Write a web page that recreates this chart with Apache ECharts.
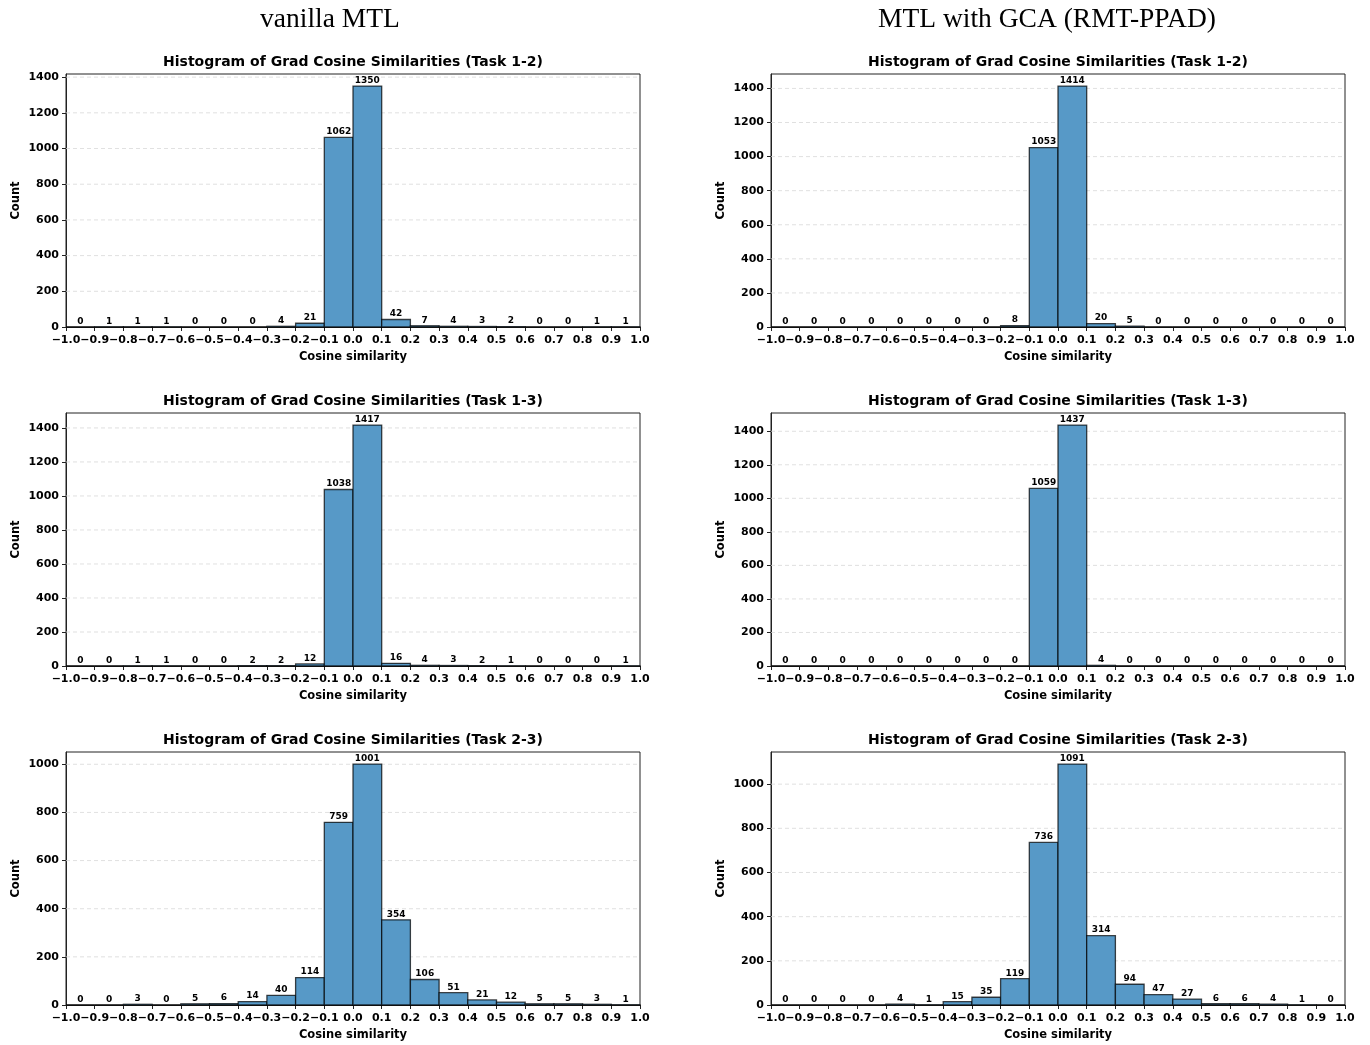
<!DOCTYPE html>
<html>
<head>
<meta charset="utf-8">
<script src="https://cdn.jsdelivr.net/npm/echarts@6/dist/echarts.min.js"></script>
<style>
html,body{margin:0;padding:0;background:#fff;}
#main{width:1370px;height:1045px;}
</style>
</head>
<body>
<div id="main"></div>
<script>
// ---------- DATA ----------
const binEdges = [-1.0,-0.9,-0.8,-0.7,-0.6,-0.5,-0.4,-0.3,-0.2,-0.1,0.0,0.1,0.2,0.3,0.4,0.5,0.6,0.7,0.8,0.9,1.0];
const columnTitles = ['vanilla MTL', 'MTL with GCA (RMT-PPAD)'];
const rowTitles = [
  'Histogram of Grad Cosine Similarities (Task 1-2)',
  'Histogram of Grad Cosine Similarities (Task 1-3)',
  'Histogram of Grad Cosine Similarities (Task 2-3)'
];
const vanilla12 = [0,1,1,1,0,0,0,4,21,1062,1350,42,7,4,3,2,0,0,1,1];
const gca12     = [0,0,0,0,0,0,0,0,8,1053,1414,20,5,0,0,0,0,0,0,0];
const vanilla13 = [0,0,1,1,0,0,2,2,12,1038,1417,16,4,3,2,1,0,0,0,1];
const gca13     = [0,0,0,0,0,0,0,0,0,1059,1437,4,0,0,0,0,0,0,0,0];
const vanilla23 = [0,0,3,0,5,6,14,40,114,759,1001,354,106,51,21,12,5,5,3,1];
const gca23     = [0,0,0,0,4,1,15,35,119,736,1091,314,94,47,27,6,6,4,1,0];
const yTicks = [0,200,400,600,800,1000,1200,1400];

// ---------- LAYOUT ----------
const panels = [
  {data: vanilla12, col:0, row:0},
  {data: gca12,     col:1, row:0},
  {data: vanilla13, col:0, row:1},
  {data: gca13,     col:1, row:1},
  {data: vanilla23, col:0, row:2},
  {data: gca23,     col:1, row:2}
];
const colLeft = [66, 771];
const colTitleX = [330, 1047];
const plotW = 574;
const rowTop = [74, 413, 752];
const plotH = 253;
const FONT = '"DejaVu Sans", sans-serif';

function fmtX(v){
  const s = Math.abs(v).toFixed(1);
  return v < -1e-9 ? '\u2212' + s : s;
}

const grids = [], xAxes = [], yAxes = [], series = [], graphics = [];

columnTitles.forEach((t, i) => {
  graphics.push({type:'text', x: colTitleX[i], y: 20,
    style:{text:t, font:'27.5px "Liberation Serif", "DejaVu Serif", serif', fill:'#000',
      textAlign:'center', textVerticalAlign:'middle'}});
});

panels.forEach((p, i) => {
  const maxV = Math.max(...p.data);
  const yMax = maxV * 1.05;
  const ticks = yTicks.filter(v => v <= yMax);
  grids.push({left: colLeft[p.col], top: rowTop[p.row], width: plotW, height: plotH,
    show: true, borderColor: '#222', borderWidth: 1, backgroundColor:'transparent'});
  graphics.push({type:'text', x: colLeft[p.col] + plotW/2, y: rowTop[p.row] - 12,
    style:{text: rowTitles[p.row], font:'bold 14px ' + FONT, fill:'#000',
      textAlign:'center', textVerticalAlign:'middle'}});
  xAxes.push({
    type:'value', gridIndex:i, min:-1, max:1, interval:0.1,
    name:'Cosine similarity', nameLocation:'middle', nameGap:24,
    nameTextStyle:{fontFamily:FONT, fontWeight:'bold', fontSize:11.5, color:'#000'},
    axisLine:{show:true, onZero:false, lineStyle:{color:'#222', width:1}},
    axisTick:{show:true, inside:false, length:4, lineStyle:{color:'#222'}},
    axisLabel:{show:true, formatter: fmtX, margin:8, fontFamily:FONT, fontWeight:'bold',
      fontSize:11, color:'#000', hideOverlap:false, showMinLabel:true, showMaxLabel:true},
    splitLine:{show:false}
  });
  yAxes.push({
    type:'value', gridIndex:i, min:0, max:yMax,
    name:'Count', nameLocation:'middle', nameGap:44, nameRotate:90,
    nameTextStyle:{fontFamily:FONT, fontWeight:'bold', fontSize:11.5, color:'#000'},
    axisLine:{show:true, onZero:false, lineStyle:{color:'#222', width:1}},
    axisTick:{show:true, inside:false, length:4, customValues: ticks, lineStyle:{color:'#222'}},
    axisLabel:{show:true, customValues: ticks, formatter: v => String(Math.round(v)), margin:7,
      fontFamily:FONT, fontWeight:'bold', fontSize:11, color:'#000'},
    splitLine:{show:false}
  });
  series.push({
    type:'custom', xAxisIndex:i, yAxisIndex:i, silent:true, z:1,
    data: ticks.filter(v => v > 0).map(v => [v]),
    renderItem(params, api){
      const v = api.value(0);
      const a = api.coord([-1, v]), b = api.coord([1, v]);
      return {type:'line', shape:{x1:a[0], y1:a[1], x2:b[0], y2:b[1]},
        style:{stroke:'#d8d8d8', lineWidth:0.8, lineDash:[4,3]}};
    }
  });
  series.push({
    type:'custom', xAxisIndex:i, yAxisIndex:i, z:2,
    data: p.data.map((c, k) => [binEdges[k], binEdges[k+1], c]),
    renderItem(params, api){
      const x0 = api.value(0), x1 = api.value(1), c = api.value(2);
      const p0 = api.coord([x0, 0]), p1 = api.coord([x1, c]);
      return {type:'group', children:[
        {type:'rect', shape:{x:p0[0], y:p1[1], width:p1[0]-p0[0], height:p0[1]-p1[1]},
          style:{fill:'#5799c7', stroke:'rgba(0,0,0,0.72)', lineWidth:1.3}},
        {type:'text', style:{text:String(c), x:(p0[0]+p1[0])/2, y:p1[1]-1,
          textAlign:'center', textVerticalAlign:'bottom',
          font:'bold 9px ' + FONT, fill:'#000'}}
      ]};
    }
  });
});

const chart = echarts.init(document.getElementById('main'), null, {renderer:'canvas'});
chart.setOption({
  animation:false,
  backgroundColor:'#fff',
  grid: grids, xAxis: xAxes, yAxis: yAxes, series: series,
  graphic: graphics
});
</script>
</body>
</html>
